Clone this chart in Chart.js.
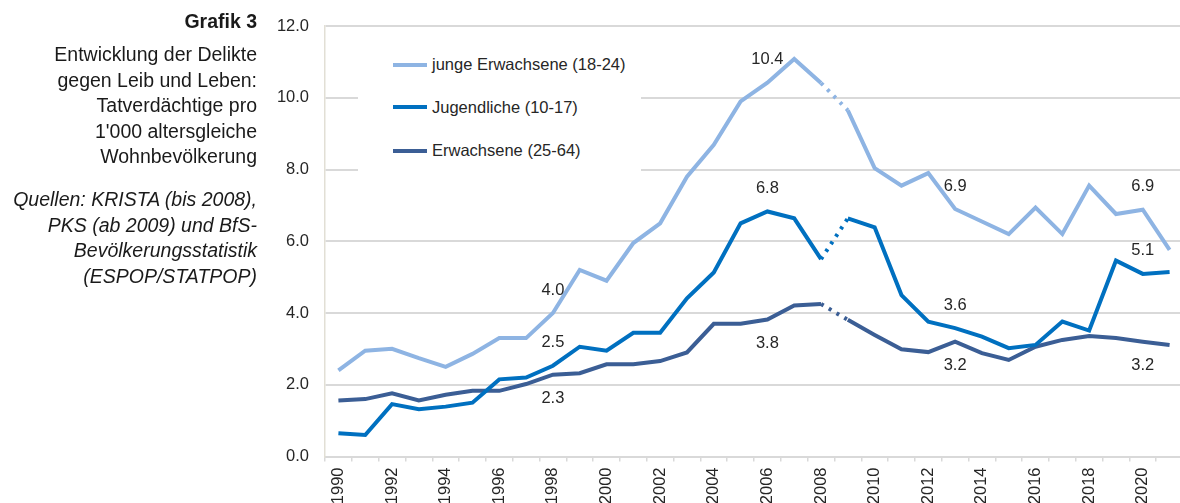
<!DOCTYPE html>
<html>
<head>
<meta charset="utf-8">
<script src="https://cdn.jsdelivr.net/npm/chart.js@4.4.1/dist/chart.umd.min.js"></script>
<style>
  html, body { margin: 0; padding: 0; background: #fff; overflow: hidden; }
  #wrap { position: relative; width: 1184px; height: 503px; }
  #note { position: absolute; left: 0; top: 0; width: 257px; text-align: right;
          font-family: "Liberation Sans", Arial, sans-serif; color: #1a1a1a;
          font-size: 19.5px; line-height: 25.6px; }
  #note .t { position: absolute; right: 0; white-space: nowrap; }
  #legend { position: absolute; left: 358px; top: 36px; width: 283px; height: 136px; background: #fff;
            font-family: "Liberation Sans", Arial, sans-serif; font-size: 16.5px; color: #262626; }
  #legend .row { position: absolute; left: 35px; height: 20px; line-height: 20px; white-space: nowrap; }
  #legend .sw { display: inline-block; width: 34px; height: 4px; vertical-align: middle; margin-right: 5px; position: relative; top: -1px; }
</style>
</head>
<body>
<div id="wrap">
  <canvas id="delikte"></canvas>
  <div id="note">
    <div class="t" style="top:9px;font-weight:bold;">Grafik 3</div>
    <div class="t" style="top:42px;">Entwicklung der Delikte<br>gegen Leib und Leben:<br>Tatverdächtige pro<br>1'000 altersgleiche<br>Wohnbevölkerung</div>
    <div class="t" style="top:187px;font-style:italic;">Quellen: KRISTA (bis 2008),<br>PKS (ab 2009) und BfS-<br>Bevölkerungsstatistik<br>(ESPOP/STATPOP)</div>
  </div>
  <div id="legend"></div>
</div>
<script>
var years = ["1990","1991","1992","1993","1994","1995","1996","1997","1998","1999","2000",
             "2001","2002","2003","2004","2005","2006","2007","2008","2009","2010",
             "2011","2012","2013","2014","2015","2016","2017","2018","2019","2020","2021"];

var jungeErwachsene = [2.4, 2.95, 3.0, 2.74, 2.5, 2.86, 3.3, 3.3, 4.0, 5.2, 4.9,
                       5.95, 6.5, 7.8, 8.69, 9.9, 10.42, 11.08, 10.41, 9.65, 8.04,
                       7.55, 7.9, 6.9, 6.55, 6.2, 6.94, 6.2, 7.55, 6.76, 6.88, 5.76];
var jugendliche = [0.65, 0.6, 1.46, 1.32, 1.39, 1.5, 2.15, 2.2, 2.53, 3.06, 2.95,
                   3.45, 3.45, 4.41, 5.13, 6.5, 6.83, 6.64, 5.5, 6.64, 6.39,
                   4.5, 3.76, 3.58, 3.34, 3.02, 3.11, 3.76, 3.51, 5.46, 5.09, 5.14];
var erwachsene = [1.56, 1.6, 1.76, 1.56, 1.72, 1.83, 1.83, 2.02, 2.28, 2.32, 2.57,
                  2.57, 2.66, 2.9, 3.7, 3.7, 3.82, 4.21, 4.25, 3.81, 3.39,
                  2.99, 2.91, 3.2, 2.88, 2.69, 3.06, 3.25, 3.36, 3.3, 3.2, 3.11];

var seriesNames = ["junge Erwachsene (18-24)", "Jugendliche (10-17)", "Erwachsene (25-64)"];
var seriesColors = ["#8eb4e3", "#0070c0", "#3b5e95"];
var yTicks = [0, 2, 4, 6, 8, 10, 12];

// years with a value label, per series
var labelledYears = [["1998", "2006", "2013", "2020"], ["1998", "2006", "2013", "2020"], ["1998", "2006", "2013", "2020"]];
var labelSide = ["above", "above", "below"];

// break between KRISTA (to 2008) and PKS (from 2009)
var breakIndex = years.indexOf("2008");

var FONT = "'Liberation Sans', Arial, sans-serif";

function makeSet(name, values, color) {
  return {
    label: name,
    data: values,
    borderColor: color,
    backgroundColor: color,
    borderWidth: 4,
    pointRadius: 0,
    pointHoverRadius: 0,
    tension: 0,
    fill: false,
    segment: {
      borderDash: function(c) { return c.p0DataIndex === breakIndex ? [3, 6] : undefined; }
    }
  };
}

var valueLabels = {
  id: 'valueLabels',
  afterDatasetsDraw: function(chart) {
    var ctx = chart.ctx;
    ctx.save();
    ctx.font = "16.5px " + FONT;
    ctx.fillStyle = "#262626";
    ctx.textAlign = "center";
    ctx.textBaseline = "middle";
    chart.data.datasets.forEach(function(ds, i) {
      var meta = chart.getDatasetMeta(i);
      labelledYears[i].forEach(function(y) {
        var idx = years.indexOf(y);
        var pt = meta.data[idx];
        var dy = labelSide[i] === "above" ? -23 : 24;
        ctx.fillText(ds.data[idx].toFixed(1), pt.x, pt.y + dy);
      });
    });
    ctx.restore();
  }
};

var ctx = document.getElementById('delikte').getContext('2d');
var myLineChart = new Chart(ctx, {
  type: 'line',
  data: {
    labels: years,
    datasets: [
      makeSet(seriesNames[0], jungeErwachsene, seriesColors[0]),
      makeSet(seriesNames[1], jugendliche, seriesColors[1]),
      makeSet(seriesNames[2], erwachsene, seriesColors[2])
    ]
  },
  options: {
    responsive: true,
    maintainAspectRatio: false,
    animation: false,
    layout: { padding: { left: 265, top: 26, right: 1, bottom: 0 } },
    plugins: {
      legend: { display: false },
      tooltip: { enabled: false }
    },
    scales: {
      x: {
        offset: true,
        grid: { display: true, drawOnChartArea: false, drawTicks: true, tickLength: 5, offset: true, color: "#d9d9d9", lineWidth: 1.5 },
        border: { display: true, color: "#d9d9d9", width: 2 },
        ticks: {
          autoSkip: false, minRotation: 90, maxRotation: 90, padding: 6,
          color: "#262626", font: { family: FONT, size: 16.5 },
          callback: function(v, i) { return i % 2 === 0 ? years[i] : ''; }
        },
        afterFit: function(s) { s.height = 46.5; s.paddingLeft = 0; s.paddingRight = 0; }
      },
      y: {
        min: 0, max: 12,
        afterBuildTicks: function(s) { s.ticks = yTicks.map(function(v) { return { value: v }; }); },
        grid: { color: "#d9d9d9", lineWidth: 2, drawTicks: false },
        border: { display: true, color: "#e2dfd5", width: 1.5 },
        ticks: {
          padding: 16, color: "#262626", font: { family: FONT, size: 16.5 },
          callback: function(v) { return v.toFixed(1); }
        },
        afterFit: function(s) { s.width = 60; }
      }
    }
  },
  plugins: [valueLabels]
});

// legend inside the plot, drawn over the grid on a white box
var legendBox = document.getElementById('legend');
var rowTops = [18, 60.5, 104];
seriesNames.forEach(function(name, i) {
  var row = document.createElement('div');
  row.className = 'row';
  row.style.top = rowTops[i] + 'px';
  row.innerHTML = '<span class="sw" style="background:' + seriesColors[i] + '"></span>' + name;
  legendBox.appendChild(row);
});
</script>
</body>
</html>
